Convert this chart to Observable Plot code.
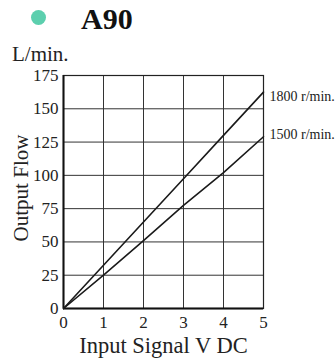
<!DOCTYPE html>
<html>
<head>
<meta charset="utf-8">
<script src="https://cdn.jsdelivr.net/npm/d3@7"></script>
<script src="https://cdn.jsdelivr.net/npm/@observablehq/plot@0.6"></script>
<style>
  html, body { margin: 0; padding: 0; background: #fff; }
  #wrap { position: relative; width: 336px; height: 363px; overflow: hidden; font-family: "Liberation Serif", "Times New Roman", serif; }
  #dot { position: absolute; left: 31px; top: 10px; width: 15px; height: 15px; border-radius: 50%; background: #5ccfae; }
  #title { position: absolute; left: 81px; top: 1px; font-size: 30px; font-weight: bold; line-height: 36px; color: #111; }
  #unit { position: absolute; left: 12px; top: 44px; font-size: 21px; line-height: 20px; color: #222; }
  #chart { position: absolute; left: 0; top: 0; }
</style>
</head>
<body>
<div id="wrap">
  <div id="chart"></div>
  <div id="dot"></div>
  <div id="title">A90</div>
  <div id="unit">L/min.</div>
</div>
<script>
const voltage = [0, 1, 2, 3, 4, 5];
const flow1800 = [0, 32.5, 65, 97.5, 130, 162.5];
const flow1500 = [0, 25, 51, 77.5, 102, 129];
const seriesNames = ["1800 r/min.", "1500 r/min."];
const xTicks = [0, 1, 2, 3, 4, 5];
const yTicks = [0, 25, 50, 75, 100, 125, 150, 175];

const data = [];
voltage.forEach((v, i) => data.push({v, f: flow1800[i], s: seriesNames[0]}));
voltage.forEach((v, i) => data.push({v, f: flow1500[i], s: seriesNames[1]}));
const ends = data.filter(d => d.v === voltage[voltage.length - 1]);

const chart = Plot.plot({
  width: 336,
  height: 363,
  marginTop: 75,
  marginBottom: 55,
  marginLeft: 63,
  marginRight: 73,
  style: { fontFamily: "'Liberation Serif', 'Times New Roman', serif", background: "transparent", color: "#222" },
  x: { domain: [0, 5], ticks: xTicks },
  y: { domain: [0, 175], ticks: yTicks },
  marks: [
    Plot.gridX(xTicks, { stroke: "#333", strokeOpacity: 1, strokeWidth: 1 }),
    Plot.gridY(yTicks, { stroke: "#333", strokeOpacity: 1, strokeWidth: 1 }),
    Plot.frame({ stroke: "#222", strokeWidth: 1.2 }),
    Plot.ruleX([0], { stroke: "#111", strokeWidth: 2 }),
    Plot.ruleY([0], { stroke: "#111", strokeWidth: 2 }),
    Plot.axisX(xTicks, { tickSize: 0, tickPadding: 7, fontSize: 17, label: null, fill: "#222" }),
    Plot.axisY(yTicks, { tickSize: 0, tickPadding: 5, fontSize: 17, label: null, fill: "#222" }),
    Plot.line(data, { x: "v", y: "f", z: "s", stroke: "#1a1a1a", strokeWidth: 1.6 }),
    Plot.text(ends.slice(0, 1), { x: "v", y: "f", text: "s", textAnchor: "start", dx: 6, dy: 4, fontSize: 14, fill: "#222" }),
    Plot.text(ends.slice(1, 2), { x: "v", y: "f", text: "s", textAnchor: "start", dx: 6, dy: -2, fontSize: 14, fill: "#222" }),
    Plot.text(["Output Flow"], { frameAnchor: "left", textAnchor: "middle", rotate: -90, dx: -42, dy: -4, fontSize: 21, fill: "#222" }),
    Plot.text(["Input Signal V DC"], { frameAnchor: "bottom", dy: 44, fontSize: 22.5, fill: "#222" })
  ]
});
document.getElementById("chart").appendChild(chart);
</script>
</body>
</html>
